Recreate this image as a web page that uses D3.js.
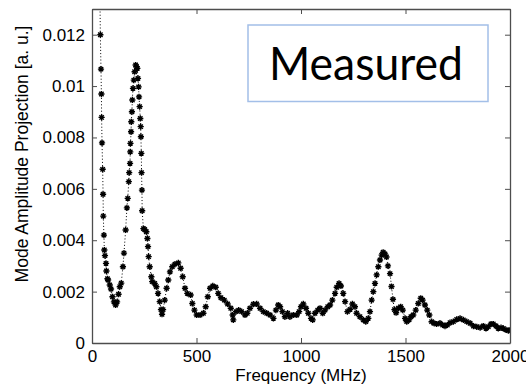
<!DOCTYPE html>
<html><head><meta charset="utf-8">
<script src="https://cdn.jsdelivr.net/npm/d3@7"></script>
<style>
html,body{margin:0;padding:0;background:#fff;}
svg{display:block;}
</style></head>
<body>
<svg id="chart" width="526" height="389"></svg>
<script>
// Frequency (MHz) of each measured point
const freq = [38,40,43,45,46,48,51,53,54,57,59,62,67,69,74,77,85,91,98,105,113,120,127,133,140,148,153,161,167,171,176,178,182,183,184,187,188,191,193,196,200,204,209,213,217,220,223,225,228,231,233,234,236,237,239,240,246,252,260,265,268,271,276,284,288,300,308,316,324,330,335,340,348,357,365,373,384,397,413,424,434,445,456,472,480,490,501,517,533,544,554,565,578,592,604,617,633,649,664,673,676,689,702,716,732,743,756,772,788,804,820,836,852,868,880,891,900,911,923,936,947,963,980,991,1000,1011,1024,1035,1048,1056,1067,1080,1091,1104,1115,1128,1139,1150,1163,1171,1182,1191,1202,1211,1222,1235,1246,1258,1266,1282,1298,1310,1322,1330,1338,1346,1354,1362,1370,1378,1386,1393,1402,1409,1416,1426,1433,1440,1447,1455,1466,1477,1487,1498,1506,1517,1526,1537,1549,1561,1573,1582,1593,1604,1614,1625,1636,1649,1665,1678,1689,1700,1713,1729,1745,1761,1777,1793,1809,1825,1841,1857,1872,1885,1896,1909,1920,1933,1944,1957,1968,1981,1992,2000];
// Mode amplitude projection [a. u.]
const amplitude = [0.0134,0.0120,0.01066,0.00969,0.00878,0.00779,0.00676,0.00579,0.00494,0.0042,0.00362,0.0034,0.0031,0.0028,0.0025,0.00245,0.00226,0.0021,0.0018,0.0016,0.00148,0.0016,0.0019,0.00219,0.00233,0.00297,0.0035,0.0044,0.00526,0.00563,0.00628,0.00663,0.00699,0.00744,0.00777,0.00822,0.00861,0.009,0.00946,0.00991,0.01023,0.01056,0.01082,0.01075,0.01069,0.0103,0.00997,0.00958,0.0092,0.00874,0.00842,0.00803,0.00738,0.00663,0.00595,0.00515,0.00445,0.00442,0.00433,0.00407,0.00375,0.00336,0.00297,0.00258,0.00239,0.00232,0.00219,0.00193,0.00161,0.0013,0.00112,0.0013,0.00167,0.00213,0.00245,0.00277,0.00297,0.00307,0.00312,0.00291,0.00258,0.00213,0.00193,0.00187,0.00154,0.00128,0.00109,0.00109,0.00116,0.00141,0.0018,0.00213,0.00222,0.00217,0.00193,0.00176,0.00167,0.00152,0.00135,0.00109,0.0009,0.00122,0.00128,0.00122,0.00109,0.00116,0.00135,0.00151,0.00152,0.00135,0.00122,0.00116,0.00109,0.00096,0.00128,0.00148,0.00141,0.00122,0.00102,0.00116,0.00102,0.00109,0.00109,0.00122,0.00141,0.00152,0.00135,0.00116,0.00096,0.0009,0.00116,0.00128,0.00135,0.00116,0.00128,0.00141,0.00148,0.00167,0.00193,0.00217,0.00232,0.00222,0.00193,0.00161,0.00122,0.00131,0.00152,0.00141,0.00116,0.00102,0.0009,0.00083,0.00096,0.00122,0.00167,0.0020,0.00232,0.00265,0.00297,0.00323,0.00342,0.00353,0.00347,0.00335,0.0030,0.0027,0.0022,0.0017,0.0013,0.00118,0.00135,0.00141,0.00128,0.00096,0.00083,0.0009,0.00102,0.00109,0.00128,0.00154,0.00174,0.00167,0.00148,0.00128,0.00109,0.00083,0.00077,0.00074,0.00077,0.0007,0.00066,0.0007,0.00079,0.00083,0.00092,0.00096,0.0009,0.00083,0.00077,0.00066,0.00063,0.0006,0.00066,0.00057,0.00063,0.00074,0.00074,0.00066,0.00057,0.0006,0.00057,0.00051,0.00048,0.0005];
const xTicks = [0,500,1000,1500,2000];
const yTicks = [0,0.002,0.004,0.006,0.008,0.01,0.012];
const yTickLabels = ["0","0.002","0.004","0.006","0.008","0.01","0.012"];
const xLabel = "Frequency (MHz)";
const yLabel = "Mode Amplitude Projection [a. u.]";
const legendText = "Measured";

const svg = d3.select("#chart");
const m = {left:92, right:510, top:9, bottom:343};
const x = d3.scaleLinear().domain([0,2000]).range([m.left, m.right]);
const y = d3.scaleLinear().domain([0,0.013]).range([m.bottom, m.top]);
const axisColor = "#4d4d4d";
const font = "'Liberation Sans', Arial, sans-serif";
const fs = 17;

svg.append("defs").append("clipPath").attr("id","clip")
  .append("rect").attr("x",m.left).attr("y",m.top)
  .attr("width",m.right-m.left).attr("height",m.bottom-m.top);

const pts = freq.map((f,i)=>[f, amplitude[i]]);

const g = svg.append("g").attr("clip-path","url(#clip)");
g.append("path").datum(pts)
  .attr("d", d3.line().x(d=>x(d[0])).y(d=>y(d[1])))
  .attr("fill","none").attr("stroke","#000").attr("stroke-width",1)
  .attr("stroke-dasharray","1,2.2");

const s = 3.1, t = 2.2;
const star = `M${-s},0L${s},0M0,${-s}L0,${s}M${-t},${-t}L${t},${t}M${-t},${t}L${t},${-t}`;
g.selectAll("path.mk").data(pts).join("path").attr("class","mk")
  .attr("transform", d=>`translate(${x(d[0])},${y(d[1])})`)
  .attr("d", star).attr("fill","none").attr("stroke","#000").attr("stroke-width",1.4);

// axes box (MATLAB style)
const tl = 5;
const ax = svg.append("g");
const bottomAxis = d3.axisBottom(x).tickValues(xTicks).tickSizeInner(-tl).tickSizeOuter(0).tickPadding(7).tickFormat(d3.format("d"));
const topAxis = d3.axisTop(x).tickValues(xTicks).tickSizeInner(-tl).tickSizeOuter(0).tickFormat("");
const leftAxis = d3.axisLeft(y).tickValues(yTicks).tickSizeInner(-tl).tickSizeOuter(0).tickPadding(7).tickFormat((d,i)=>yTickLabels[i]);
const rightAxis = d3.axisRight(y).tickValues(yTicks).tickSizeInner(-tl).tickSizeOuter(0).tickFormat("");

ax.append("g").attr("transform",`translate(0,${m.bottom})`).call(bottomAxis);
ax.append("g").attr("transform",`translate(0,${m.top})`).call(topAxis);
ax.append("g").attr("transform",`translate(${m.left},0)`).call(leftAxis);
ax.append("g").attr("transform",`translate(${m.right},0)`).call(rightAxis);
ax.selectAll(".domain").attr("stroke",axisColor).attr("stroke-width",1.3);
ax.selectAll(".tick line").attr("stroke",axisColor).attr("stroke-width",1);
ax.selectAll(".tick text").attr("fill","#000").attr("font-family",font).attr("font-size",fs);

svg.append("text").attr("x",(m.left+m.right)/2).attr("y",381)
  .attr("text-anchor","middle").attr("font-family",font).attr("font-size",fs)
  .attr("fill","#000").text(xLabel);
svg.append("text").attr("transform","translate(28,154) rotate(-90)")
  .attr("text-anchor","middle").attr("font-family",font).attr("font-size",17.5)
  .attr("fill","#000").text(yLabel);

// legend box
svg.append("rect").attr("x",248).attr("y",25).attr("width",240).attr("height",76.5)
  .attr("fill","#fff").attr("stroke","#a3bfe8").attr("stroke-width",1.5);
svg.append("text").attr("x",366).attr("y",80).attr("text-anchor","middle")
  .attr("font-family","Lato, 'Open Sans', sans-serif").attr("font-size",47)
  .attr("textLength",194).attr("lengthAdjust","spacingAndGlyphs")
  .attr("fill","#000").text(legendText);
</script>
</body></html>
